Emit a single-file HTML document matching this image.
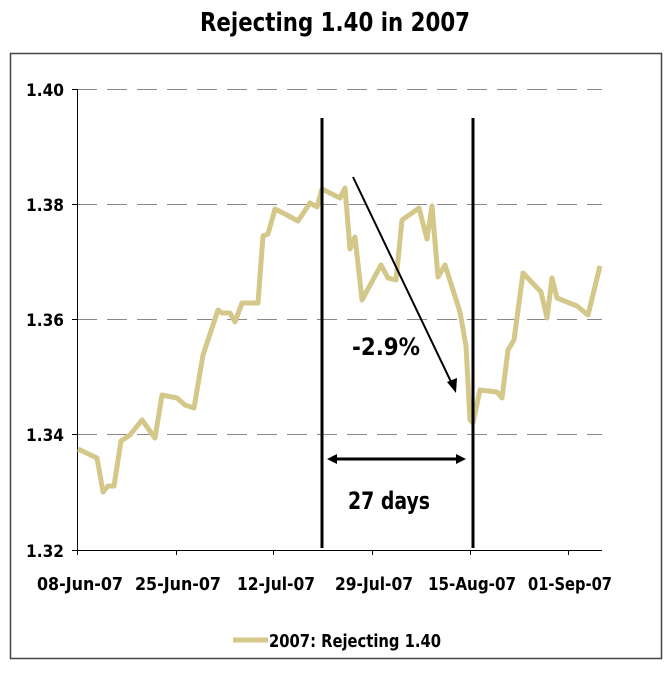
<!DOCTYPE html><html><head><style>body{margin:0;background:#fff}svg{display:block}text{font-family:"DejaVu Sans",sans-serif;font-weight:bold;fill:#000}</style></head><body>
<svg width="670" height="679" viewBox="0 0 670 679">
<text x="335" y="31" font-size="26" text-anchor="middle" textLength="270" lengthAdjust="spacingAndGlyphs">Rejecting 1.40 in 2007</text>
<rect x="10.5" y="53.5" width="651" height="605" fill="none" stroke="#444" stroke-width="1.5"/>
<g stroke="#888" stroke-width="1" stroke-dasharray="20,10">
<line x1="77" y1="89.5" x2="602" y2="89.5"/><line x1="77" y1="204.5" x2="602" y2="204.5"/><line x1="77" y1="319.5" x2="602" y2="319.5"/><line x1="77" y1="434.5" x2="602" y2="434.5"/></g>
<g stroke="#000" stroke-width="1"><line x1="77.5" y1="89" x2="77.5" y2="550"/><line x1="77" y1="550.5" x2="602" y2="550.5"/>
<line x1="72" y1="89.5" x2="77" y2="89.5"/><line x1="72" y1="204.5" x2="77" y2="204.5"/><line x1="72" y1="319.5" x2="77" y2="319.5"/><line x1="72" y1="434.5" x2="77" y2="434.5"/><line x1="72" y1="550.5" x2="77" y2="550.5"/>
<line x1="77.5" y1="550" x2="77.5" y2="555"/><line x1="176.5" y1="550" x2="176.5" y2="555"/><line x1="273.5" y1="550" x2="273.5" y2="555"/><line x1="372.5" y1="550" x2="372.5" y2="555"/><line x1="470.5" y1="550" x2="470.5" y2="555"/><line x1="568.5" y1="550" x2="568.5" y2="555"/></g>
<g font-size="17" text-anchor="end" lengthAdjust="spacingAndGlyphs"><text x="64" y="96" textLength="38" lengthAdjust="spacingAndGlyphs">1.40</text><text x="64" y="211" textLength="38" lengthAdjust="spacingAndGlyphs">1.38</text><text x="64" y="326" textLength="38" lengthAdjust="spacingAndGlyphs">1.36</text><text x="64" y="441" textLength="38" lengthAdjust="spacingAndGlyphs">1.34</text><text x="64" y="557" textLength="38" lengthAdjust="spacingAndGlyphs">1.32</text></g>
<g font-size="18" text-anchor="middle"><text x="80" y="590" textLength="86" lengthAdjust="spacingAndGlyphs">08-Jun-07</text><text x="178" y="590" textLength="86" lengthAdjust="spacingAndGlyphs">25-Jun-07</text><text x="276" y="590" textLength="78" lengthAdjust="spacingAndGlyphs">12-Jul-07</text><text x="374" y="590" textLength="78" lengthAdjust="spacingAndGlyphs">29-Jul-07</text><text x="472" y="590" textLength="88" lengthAdjust="spacingAndGlyphs">15-Aug-07</text><text x="570" y="590" textLength="84" lengthAdjust="spacingAndGlyphs">01-Sep-07</text></g>
<polyline fill="none" stroke="#d4c78a" stroke-width="5" stroke-linejoin="round" points="78,449 97,458 103,492 108,486 114,486 121,441 130,435 142,420 155,438 162,395 177,398 185,405 194,408 203,355 212,328 218,310 222,313 230,313 235,322 242,303 258,303 263,236 268,234 275,209 285,214 298,221 310,203 317,207 322,189 340,198 345,188 350,249 355,237 362,300 381,265 388,278 396,280 402,220 419,208 427,239 432,206 438,277 445,265 460,312 466,346 470,420 473,423 480,390 497,392 502,398 508,350 514,340 523,273 541,292 547,318 552,278 557,298 577,306 588,315 600,266"/>
<g stroke="#000" stroke-width="3"><line x1="322" y1="118" x2="322" y2="548"/><line x1="473" y1="118" x2="473" y2="548"/><line x1="332" y1="459" x2="461" y2="459"/></g>
<polygon points="327,459 337,454 337,464" fill="#000"/><polygon points="466,459 456,454 456,464" fill="#000"/>
<line x1="353" y1="177" x2="453" y2="386" stroke="#000" stroke-width="2"/>
<polygon points="456,393 447,382 457,378" fill="#000"/>
<text x="386" y="355" font-size="24" text-anchor="middle" textLength="68" lengthAdjust="spacingAndGlyphs">-2.9%</text>
<text x="389" y="509" font-size="24" text-anchor="middle" textLength="82" lengthAdjust="spacingAndGlyphs">27 days</text>
<line x1="233" y1="640" x2="268" y2="640" stroke="#d4c78a" stroke-width="5"/>
<text x="269" y="647" font-size="18" textLength="172" lengthAdjust="spacingAndGlyphs">2007: Rejecting 1.40</text>
</svg></body></html>
